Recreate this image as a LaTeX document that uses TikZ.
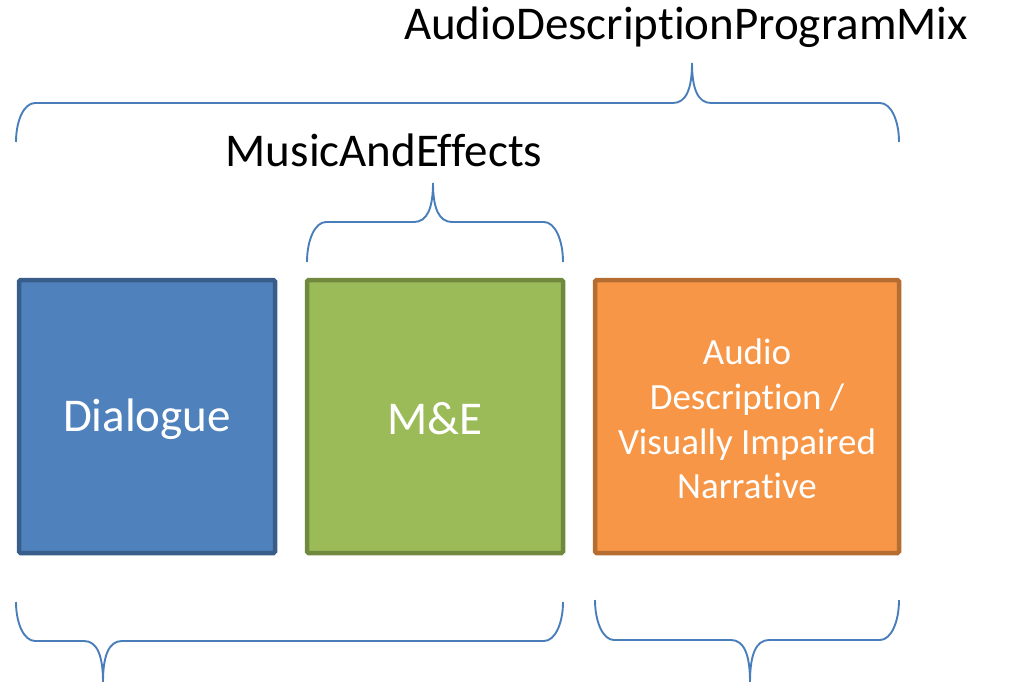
\documentclass[tikz,border=0pt]{standalone}
\usepackage{fontspec}
\setmainfont{Carlito}[Ligatures=NoCommon]
\definecolor{bluefill}{HTML}{4F81BD}
\definecolor{bluedraw}{HTML}{385D8A}
\definecolor{greenfill}{HTML}{9BBB59}
\definecolor{greendraw}{HTML}{71893F}
\definecolor{orangefill}{HTML}{F79646}
\definecolor{orangedraw}{HTML}{B66D31}
\definecolor{bracecol}{HTML}{4A7EBB}
\newcommand{\mybrace}[7]{% name, x1, x2, tx, yend, yline, ytip
\draw[brace] (#2,#5) .. controls (#2,{#6+0.45*(#5-#6)}) and ({#2+8},#6) .. ({#2+19},#6)
 -- ({#4-19},#6) .. controls ({#4-6},#6) and (#4,{#6+0.35*(#7-#6)}) .. (#4,#7)
 .. controls (#4,{#6+0.35*(#7-#6)}) and ({#4+6},#6) .. ({#4+19},#6)
 -- ({#3-19},#6) .. controls ({#3-8},#6) and (#3,{#6+0.45*(#5-#6)}) .. (#3,#5);
\coordinate (#1) at (#4,#7);}
\tikzset{
  box/.style={line width=4.5pt, rounded corners=1.5pt},
  brace/.style={draw=bracecol, line width=1.9pt},
  lbl/.style={font=\fontsize{47}{57}\selectfont, text=black, inner sep=0pt},
  boxtext/.style={text=white, inner sep=0pt, align=center}
}
\begin{document}
\begin{tikzpicture}[x=1pt,y=-1pt]
\useasboundingbox (0,0) rectangle (1019,682);
% boxes
\draw[box, fill=bluefill, draw=bluedraw] (19,280) rectangle (275,553);
\draw[box, fill=greenfill, draw=greendraw] (307,280) rectangle (563,553);
\draw[box, fill=orangefill, draw=orangedraw] (595,280) rectangle (899,553);
\node[boxtext, font=\fontsize{47}{57}\selectfont] (dlg) at (147,419) {Dialogue};
\node[boxtext, font=\fontsize{47}{57}\selectfont] (me) at (435,419) {M\&E};
\node[boxtext, font=\fontsize{37}{44.7}\selectfont] (ad) at (747,419) {Audio\\Description /\\Visually Impaired\\Narrative};
% braces
\mybrace{tipmix}{16}{899}{692}{142}{103}{63}
\mybrace{tipme}{307}{563}{433}{262}{222}{183}
\mybrace{tipleft}{16}{563}{103}{602}{641}{682}
\mybrace{tipright}{595}{899}{750}{600}{640}{682}
% labels
\node[lbl] (mix) at (686,27) {AudioDescriptionProgramMix};
\node[lbl] (mae) at (384,150) {MusicAndEffects};
\end{tikzpicture}
\end{document}
